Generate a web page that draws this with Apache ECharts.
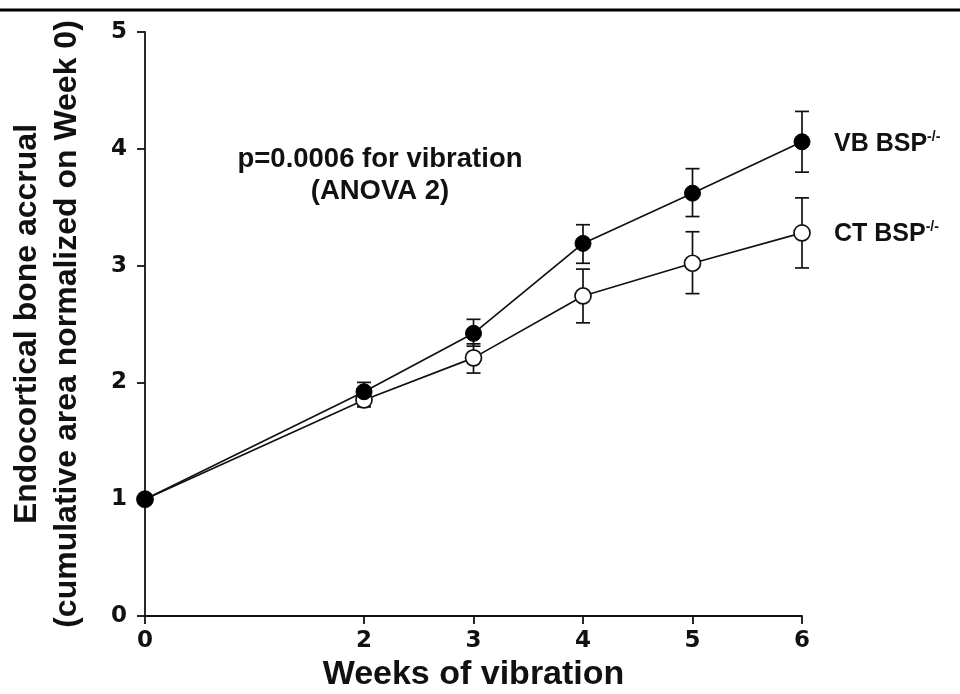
<!DOCTYPE html>
<html>
<head>
<meta charset="utf-8">
<script src="https://cdn.jsdelivr.net/npm/echarts@6/dist/echarts.min.js"></script>
<style>html,body{margin:0;padding:0;background:#fff}#c{width:960px;height:694px}</style>
</head>
<body>
<div id="c"></div>
<script>
// Data
const weeks = [0, 2, 3, 4, 5, 6];
const vbMean = [1, 1.92, 2.42, 3.19, 3.62, 4.06];
const vbLow  = [1, 1.84, 2.31, 3.02, 3.42, 3.80];
const vbHigh = [1, 2.00, 2.54, 3.35, 3.83, 4.32];
const ctMean = [1, 1.85, 2.21, 2.74, 3.02, 3.28];
const ctLow  = [1, 1.79, 2.08, 2.51, 2.76, 2.98];
const ctHigh = [1, 1.91, 2.33, 2.97, 3.29, 3.58];
const xTicks = [0, 2, 3, 4, 5, 6];
const yTicks = [0, 1, 2, 3, 4, 5];
const vbName = 'VB BSP';
const ctName = 'CT BSP';
const annot1 = 'p=0.0006 for vibration';
const annot2 = '(ANOVA 2)';

const sans = 'Liberation Sans, Arial, sans-serif';
const verd = 'DejaVu Sans, Verdana, sans-serif';
const ink = '#111';

function pairs(xs, ys) { return xs.map((x, i) => [x, ys[i]]); }
function errData(xs, lo, hi) { return xs.map((x, i) => [x, lo[i], hi[i]]); }

function errRender(params, api) {
  const x = api.value(0);
  const p1 = api.coord([x, api.value(1)]);
  const p2 = api.coord([x, api.value(2)]);
  const cap = 7;
  const st = { stroke: ink, lineWidth: 1.7 };
  return {
    type: 'group',
    children: [
      { type: 'line', shape: { x1: p1[0], y1: p1[1], x2: p2[0], y2: p2[1] }, style: st },
      { type: 'line', shape: { x1: p1[0] - cap, y1: p1[1], x2: p1[0] + cap, y2: p1[1] }, style: st },
      { type: 'line', shape: { x1: p2[0] - cap, y1: p2[1], x2: p2[0] + cap, y2: p2[1] }, style: st }
    ]
  };
}

const legendRich = {
  m: { fontFamily: sans, fontWeight: 'bold', fontSize: 25, color: ink },
  s: { fontFamily: sans, fontWeight: 'bold', fontSize: 14, color: ink, padding: [0, 0, 14, 0] }
};

const chart = echarts.init(document.getElementById('c'), null, { renderer: 'canvas' });
chart.setOption({
  animation: false,
  backgroundColor: '#fff',
  grid: { left: 145, right: 158, top: 32, bottom: 78, containLabel: false, outerBoundsMode: 'none' },
  xAxis: {
    type: 'value', min: 0, max: 6, interval: 1,
    name: 'Weeks of vibration', nameLocation: 'middle', nameGap: 38,
    nameTextStyle: { fontFamily: sans, fontWeight: 'bold', fontSize: 34, color: ink },
    axisLine: { show: true, onZero: false, lineStyle: { color: ink, width: 1.8 } },
    axisTick: { show: true, length: 8, customValues: xTicks, lineStyle: { color: ink, width: 1.8 } },
    axisLabel: { show: true, customValues: xTicks, margin: 14, fontFamily: verd, fontWeight: 'bold', fontSize: 23, color: ink },
    splitLine: { show: false }
  },
  yAxis: {
    type: 'value', min: 0, max: 5, interval: 1,
    name: 'Endocortical bone accrual\n(cumulative area normalized on Week 0)',
    nameLocation: 'middle', nameGap: 58, nameRotate: 90,
    nameTextStyle: { fontFamily: sans, fontWeight: 'bold', fontSize: 32, color: ink, lineHeight: 40, align: 'center' },
    axisLine: { show: true, onZero: false, lineStyle: { color: ink, width: 1.8 } },
    axisTick: { show: true, length: 8, customValues: yTicks, lineStyle: { color: ink, width: 1.8 } },
    axisLabel: { show: true, customValues: yTicks, margin: 18, fontFamily: verd, fontWeight: 'bold', fontSize: 23, color: ink },
    splitLine: { show: false }
  },
  graphic: [
    { type: 'line', shape: { x1: 0, y1: 10, x2: 960, y2: 10 }, style: { stroke: '#000', lineWidth: 3 }, z: 10 },
    { type: 'text', x: 380, y: 159, style: { text: annot1, fontFamily: sans, fontWeight: 'bold', fontSize: 27.5, fill: ink, align: 'center', verticalAlign: 'middle' } },
    { type: 'text', x: 380, y: 191, style: { text: annot2, fontFamily: sans, fontWeight: 'bold', fontSize: 27.5, fill: ink, align: 'center', verticalAlign: 'middle' } }
  ],
  series: [
    { type: 'custom', name: 'vbErr', renderItem: errRender, data: errData(weeks, vbLow, vbHigh), z: 2, silent: true },
    { type: 'custom', name: 'ctErr', renderItem: errRender, data: errData(weeks, ctLow, ctHigh), z: 2, silent: true },
    {
      type: 'line', name: vbName, data: pairs(weeks, vbMean), z: 5,
      symbol: 'circle', symbolSize: 16, showAllSymbol: true,
      lineStyle: { color: ink, width: 1.7 },
      itemStyle: { color: '#000', borderColor: '#000', borderWidth: 1 },
      endLabel: { show: true, distance: 32, offset: [0, 2], formatter: '{m|' + vbName + '}{s|-/-}', rich: legendRich }
    },
    {
      type: 'line', name: ctName, data: pairs(weeks, ctMean), z: 4,
      symbol: 'circle', symbolSize: 16, showAllSymbol: true,
      lineStyle: { color: ink, width: 1.7 },
      itemStyle: { color: '#fff', borderColor: ink, borderWidth: 1.7 },
      endLabel: { show: true, distance: 32, offset: [0, 1], formatter: '{m|' + ctName + '}{s|-/-}', rich: legendRich }
    }
  ]
});
</script>
</body>
</html>
